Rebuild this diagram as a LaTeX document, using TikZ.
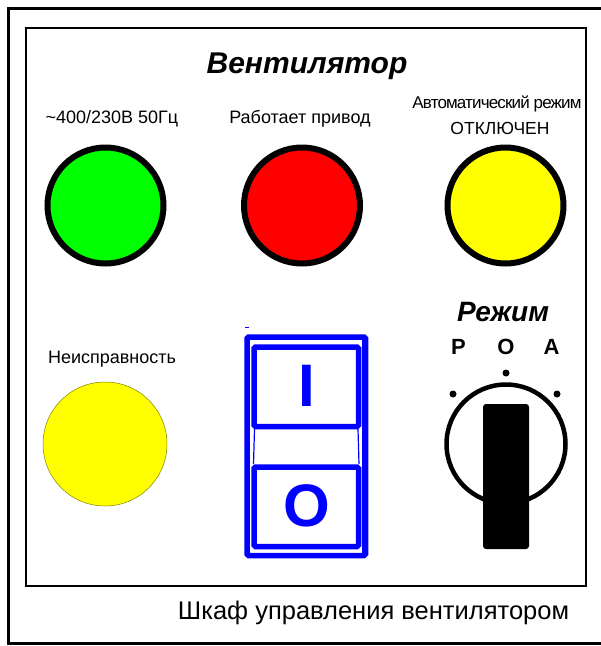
\documentclass[tikz,border=0pt]{standalone}
\usepackage{fontspec}
\setmainfont{Liberation Sans}
\usetikzlibrary{calc}
\definecolor{lgreen}{HTML}{00FF00}
\definecolor{lred}{HTML}{FF0000}
\definecolor{lyellow}{HTML}{FFFF00}
\definecolor{sblue}{HTML}{0000FF}
\tikzset{
  lamp/.style={circle, draw=black, line width=6pt, minimum size=116pt, inner sep=0pt},
  lbl/.style={inner sep=0pt, font=\fontsize{18}{20}\selectfont},
  btn/.style={draw=sblue, line width=5.5pt, rounded corners=1.5pt},
}
\begin{document}
\begin{tikzpicture}[x=1pt,y=-1pt]
\useasboundingbox (0,0) rectangle (601,646);
% frames
\draw[line width=3pt] (606,8.5) -- (8.5,8.5) -- (8.5,643.5) -- (606,643.5);
\draw[line width=2pt] (26,27.5) rectangle (586,586);
% title
\node[inner sep=0pt, font=\fontsize{30}{33}\selectfont\bfseries\itshape] (title) at (307,66) {Вентилятор};
% labels
\node[lbl] (l1) at (112,119) {\textasciitilde400/230В 50Гц};
\node[lbl] (l2) at (300,119) {Работает привод};
\node[lbl, font=\fontsize{17}{19}\selectfont] (l3a) at (497,104) {\addfontfeatures{LetterSpace=-5}Автоматический режим};
\node[lbl, font=\fontsize{17.5}{19}\selectfont] (l3b) at (500,128) {ОТКЛЮЧЕН};
\node[lbl] (l4) at (112,359) {Неисправность};
% lamps
\node[lamp, fill=lgreen] (g) at (105.5,205.5) {};
\node[lamp, fill=lred] (r) at (302,205.5) {};
\node[lamp, fill=lyellow] (y) at (505.5,205.5) {};
\node[circle, draw=black!50!lyellow, line width=0.5pt, fill=lyellow, minimum size=124pt, inner sep=0pt] (f) at (105,444) {};
% switch
\draw[sblue, line width=1pt] (245,327.5) -- (249,327.5);
\draw[btn, line width=5.5pt] (247,337) rectangle (365.5,555.5);
\draw[sblue, line width=1pt] (362,340) -- (362,553);
\coordinate (m1) at (254.5,429);
\coordinate (m2) at (253.5,464);
\coordinate (m3) at (358,429);
\coordinate (m4) at (359,464);
\draw[sblue, line width=1.2pt] (m1) -- (m2) (m3) -- (m4);
\draw[btn] (254,347) rectangle (358.5,426.5);
\draw[btn] (254,467) rectangle (358.5,546.5);
\node[sblue, inner sep=0pt, font=\fontsize{60}{60}\selectfont\bfseries] (I) at (306.5,385.5) {I};
\node[sblue, inner sep=0pt, font=\fontsize{60}{60}\selectfont\bfseries] (O) at (307,506) {O};
% rotary switch
\node[inner sep=0pt, font=\fontsize{28}{30}\selectfont\bfseries\itshape] (rej) at (503,312) {Режим};
\node[inner sep=0pt, font=\fontsize{22}{24}\selectfont\bfseries] (P) at (458.5,347) {P};
\node[inner sep=0pt, font=\fontsize{22}{24}\selectfont\bfseries] (Oo) at (506,347) {O};
\node[inner sep=0pt, font=\fontsize{22}{24}\selectfont\bfseries] (A) at (551.5,347) {A};
\fill (506,373) circle (3.5pt) (453,394) circle (3.5pt) (557,394) circle (3.5pt);
\node[circle, draw=black, line width=4.5pt, fill=white, minimum size=119pt, inner sep=0pt] (knob) at (506,444) {};
\fill[black, rounded corners=3pt] (483,404) rectangle (529,549);
% caption
\node[inner sep=0pt, font=\fontsize{25.5}{28}\selectfont] (cap) at (373.5,613) {Шкаф управления вентилятором};
\end{tikzpicture}
\end{document}
